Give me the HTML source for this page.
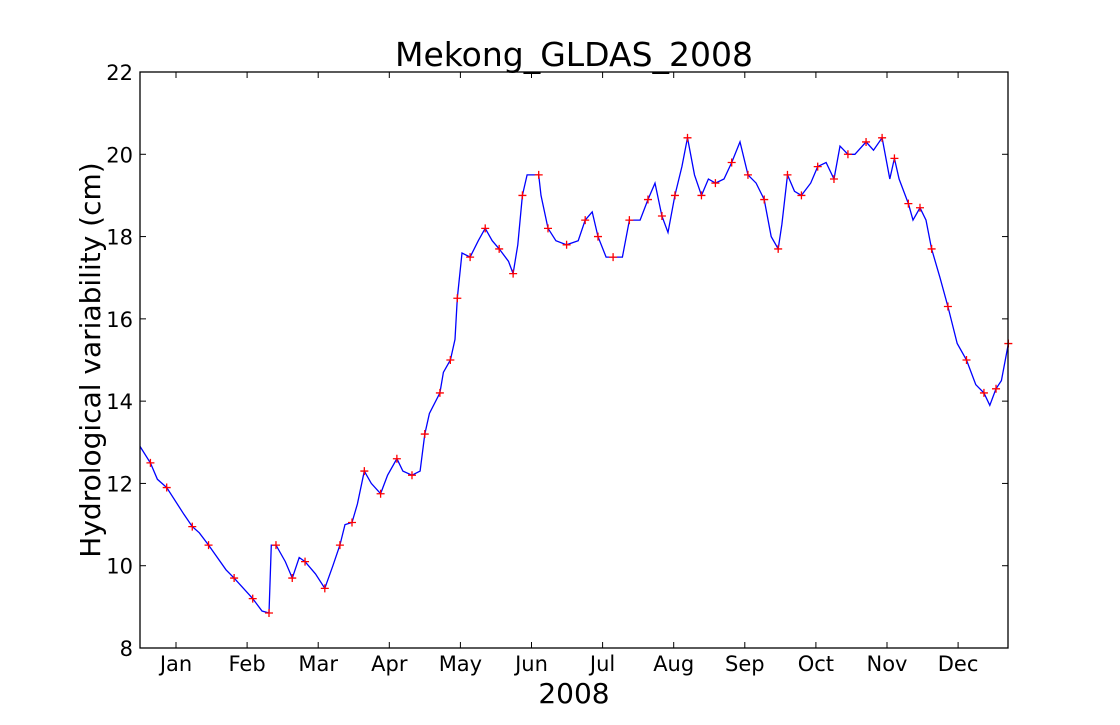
<!DOCTYPE html>
<html><head><meta charset="utf-8"><style>
body{margin:0;background:#fff;}
svg text{font-family:"DejaVu Sans","Liberation Sans",sans-serif;fill:#000;}
</style></head><body>
<svg width="1120" height="720">
<rect width="1120" height="720" fill="#fff"/>
<g id="plot"></g>
<rect x="140" y="72" width="868" height="576" fill="none" stroke="#000" stroke-width="1.3"/>
<text x="574" y="66" font-size="33" text-anchor="middle">Mekong_GLDAS_2008</text>
<text x="574" y="703" font-size="28" text-anchor="middle">2008</text>
<text transform="translate(100,360) rotate(-90)" font-size="28" text-anchor="middle">Hydrological variability (cm)</text>
</svg>
<script>
const days=[-15.5,-11,-8,-4,3.4,7,10,14,21.5,25,29,33,37,40,41,43,47,50,53,55.5,60,64,67.5,70.5,72.7,75.7,78,81,84,88,91,95,97.6,101.5,105,107,109,113.5,115,118,120,121,123,126.5,130,133,136,139,143,145,147,149,151,156,157,160,163.4,168,173,176,179,181.5,185,188,192,195,199.6,203,206,209,211.6,214.6,217.6,220,223,226,229,232,235.7,239,242.6,246,249.5,253,256,259,260.6,263,266,269,273,276,279.6,283,285.6,289,292,296.8,300,303.7,307,309,311,315,317,320,322.6,325,328.6,332,336,340,344,347.5,350,352.7,355,358];
const values=[12.9,12.5,12.1,11.9,11.25,10.95,10.8,10.5,9.9,9.7,9.45,9.2,8.9,8.85,10.5,10.5,10.1,9.7,10.2,10.1,9.8,9.45,10.0,10.5,11.0,11.05,11.5,12.3,12.0,11.75,12.2,12.6,12.3,12.2,12.3,13.2,13.7,14.2,14.7,15.0,15.5,16.5,17.6,17.5,17.9,18.2,17.9,17.7,17.4,17.1,17.8,19.0,19.5,19.5,19.0,18.2,17.9,17.8,17.9,18.4,18.6,18.0,17.5,17.5,17.5,18.4,18.4,18.9,19.3,18.5,18.1,19.0,19.7,20.4,19.5,19.0,19.4,19.3,19.4,19.8,20.3,19.5,19.3,18.9,18.0,17.7,18.3,19.5,19.1,19.0,19.3,19.7,19.8,19.4,20.2,20.0,20.0,20.3,20.1,20.4,19.4,19.9,19.4,18.8,18.4,18.7,18.4,17.7,17.0,16.3,15.4,15.0,14.4,14.2,13.9,14.3,14.5,15.4];
const months=["Jan","Feb","Mar","Apr","May","Jun","Jul","Aug","Sep","Oct","Nov","Dec"];
const yTicks=[8,10,12,14,16,18,20,22];
const NS="http://www.w3.org/2000/svg";
const g=document.getElementById('plot');
const xs=d=>176+d*2.325;
const ys=v=>648-(v-8)*576/14;
const xm=m=>176+m*71.1;
function mk(t,a){const e=document.createElementNS(NS,t);for(const k in a)e.setAttribute(k,a[k]);g.appendChild(e);return e;}
yTicks.forEach(v=>{
 const l=mk('line',{x1:140,x2:146,y1:ys(v),y2:ys(v),stroke:'#000'});
 
 
 const r=mk('line',{x1:1002,x2:1008,y1:ys(v),y2:ys(v),stroke:'#000'});
 
 
 const t=mk('text',{x:133,y:ys(v)+8,'font-size':21,'text-anchor':'end'});t.textContent=v;
 
 
});
months.forEach((m,i)=>{
 const l=mk('line',{x1:xm(i),x2:xm(i),y1:648,y2:642,stroke:'#000'});
 
 
 const u=mk('line',{x1:xm(i),x2:xm(i),y1:72,y2:78,stroke:'#000'});
 
 
 const t=mk('text',{x:xm(i),y:671,'font-size':21,'text-anchor':'middle'});t.textContent=m;
 
 
});
const pts=days.map((d,i)=>xs(d).toFixed(1)+','+ys(values[i]).toFixed(1)).join(' ');
const line=mk('polyline',{points:pts,fill:'none',stroke:'#0000ff','stroke-width':1.3});


days.forEach((d,i)=>{
 if(i===0||i%2===0)return;
 const x=xs(d),y=ys(values[i]);
 const p=mk('path',{d:`M${x-4},${y}H${x+4}M${x},${y-4}V${y+4}`,stroke:'#ff0000','stroke-width':1.3});
 
 
});
</script>
</body></html>
